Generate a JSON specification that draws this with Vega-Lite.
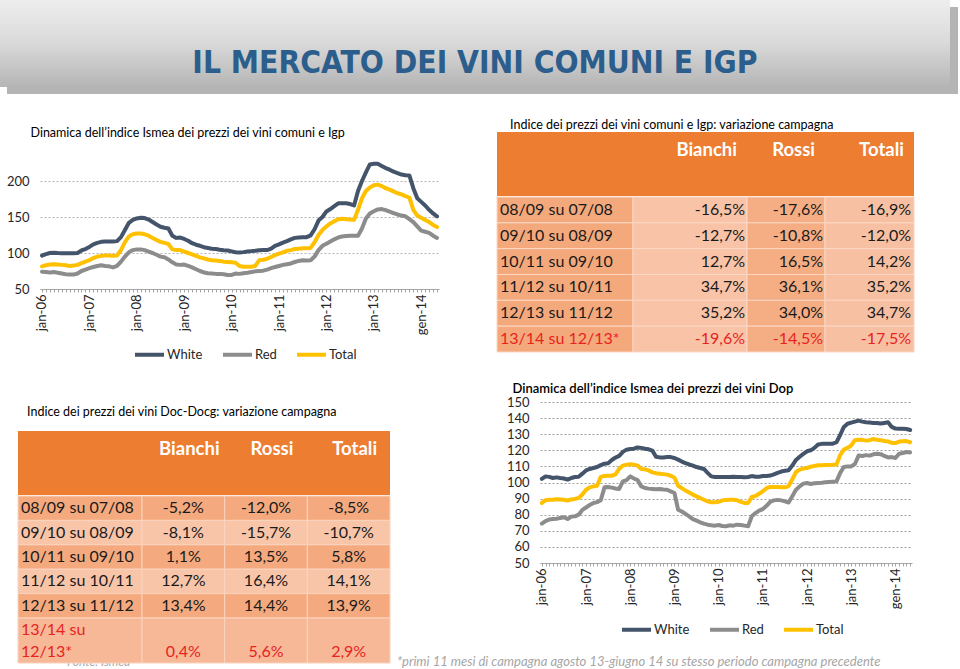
{
"$schema": "https://vega.github.io/schema/vega-lite/v6.json",
"width": 960, "height": 669, "padding": 0, "autosize": "none", "background": "white",
"config": {
  "view": {"stroke": null},
  "font": "Lato",
  "locale": {"number": {"decimal": ",", "thousands": ".", "grouping": [3], "currency": ["", " €"], "minus": "-"}},
  "scale": {"bandPaddingInner": 0, "bandPaddingOuter": 0, "rectBandPaddingInner": 0, "barBandPaddingInner": 0},
  "axis": {"labelFont": "Lato", "titleFont": "Lato"},
  "legend": {"labelFont": "Lato"}
},
"datasets": {
"igp_idx": [
{"m":0,"s":"White","v":96.4},{"m":1,"s":"White","v":98.5},{"m":2,"s":"White","v":100},{"m":3,"s":"White","v":100.5},{"m":4,"s":"White","v":100},{"m":5,"s":"White","v":99.7},{"m":6,"s":"White","v":99.5},{"m":7,"s":"White","v":99.7},{"m":8,"s":"White","v":99.5},{"m":9,"s":"White","v":100},
{"m":10,"s":"White","v":103.5},{"m":11,"s":"White","v":105.5},{"m":12,"s":"White","v":108.5},{"m":13,"s":"White","v":112},{"m":14,"s":"White","v":114},{"m":15,"s":"White","v":115.5},{"m":16,"s":"White","v":116},{"m":17,"s":"White","v":116},{"m":18,"s":"White","v":116},{"m":19,"s":"White","v":116.5},
{"m":20,"s":"White","v":122},{"m":21,"s":"White","v":132},{"m":22,"s":"White","v":142},{"m":23,"s":"White","v":146},{"m":24,"s":"White","v":148},{"m":25,"s":"White","v":149},{"m":26,"s":"White","v":148.5},{"m":27,"s":"White","v":146.5},{"m":28,"s":"White","v":143},{"m":29,"s":"White","v":139.5},
{"m":30,"s":"White","v":136.5},{"m":31,"s":"White","v":135},{"m":32,"s":"White","v":134},{"m":33,"s":"White","v":124},{"m":34,"s":"White","v":121},{"m":35,"s":"White","v":121.5},{"m":36,"s":"White","v":119.5},{"m":37,"s":"White","v":117},{"m":38,"s":"White","v":113.6},{"m":39,"s":"White","v":111.5},
{"m":40,"s":"White","v":110},{"m":41,"s":"White","v":108},{"m":42,"s":"White","v":107},{"m":43,"s":"White","v":106},{"m":44,"s":"White","v":105.5},{"m":45,"s":"White","v":104.5},{"m":46,"s":"White","v":103.8},{"m":47,"s":"White","v":103.4},{"m":48,"s":"White","v":102.2},{"m":49,"s":"White","v":101},
{"m":50,"s":"White","v":100.6},{"m":51,"s":"White","v":101.2},{"m":52,"s":"White","v":102},{"m":53,"s":"White","v":102.6},{"m":54,"s":"White","v":103},{"m":55,"s":"White","v":103.8},{"m":56,"s":"White","v":104},{"m":57,"s":"White","v":104},{"m":58,"s":"White","v":106},{"m":59,"s":"White","v":110},
{"m":60,"s":"White","v":112},{"m":61,"s":"White","v":114.5},{"m":62,"s":"White","v":116.5},{"m":63,"s":"White","v":119},{"m":64,"s":"White","v":121},{"m":65,"s":"White","v":121.5},{"m":66,"s":"White","v":122},{"m":67,"s":"White","v":122},{"m":68,"s":"White","v":124.5},{"m":69,"s":"White","v":133},
{"m":70,"s":"White","v":145},{"m":71,"s":"White","v":150},{"m":72,"s":"White","v":157.7},{"m":73,"s":"White","v":161},{"m":74,"s":"White","v":165},{"m":75,"s":"White","v":169},{"m":76,"s":"White","v":169},{"m":77,"s":"White","v":169},{"m":78,"s":"White","v":168},{"m":79,"s":"White","v":166},
{"m":80,"s":"White","v":186},{"m":81,"s":"White","v":200},{"m":82,"s":"White","v":212},{"m":83,"s":"White","v":223},{"m":84,"s":"White","v":224},{"m":85,"s":"White","v":224},{"m":86,"s":"White","v":221},{"m":87,"s":"White","v":218},{"m":88,"s":"White","v":215.7},{"m":89,"s":"White","v":213},
{"m":90,"s":"White","v":211},{"m":91,"s":"White","v":209},{"m":92,"s":"White","v":208},{"m":93,"s":"White","v":207.8},{"m":94,"s":"White","v":190},{"m":95,"s":"White","v":176},{"m":96,"s":"White","v":171},{"m":97,"s":"White","v":166},{"m":98,"s":"White","v":160},{"m":99,"s":"White","v":155},{"m":100,"s":"White","v":151},
{"m":0,"s":"Red","v":74},{"m":1,"s":"Red","v":73.5},{"m":2,"s":"Red","v":73},{"m":3,"s":"Red","v":73.5},{"m":4,"s":"Red","v":72.5},{"m":5,"s":"Red","v":71.5},{"m":6,"s":"Red","v":70.5},{"m":7,"s":"Red","v":70},{"m":8,"s":"Red","v":70},{"m":9,"s":"Red","v":71.5},
{"m":10,"s":"Red","v":75},{"m":11,"s":"Red","v":77},{"m":12,"s":"Red","v":79},{"m":13,"s":"Red","v":80.5},{"m":14,"s":"Red","v":82},{"m":15,"s":"Red","v":83},{"m":16,"s":"Red","v":82},{"m":17,"s":"Red","v":81.5},{"m":18,"s":"Red","v":80},{"m":19,"s":"Red","v":82},
{"m":20,"s":"Red","v":88},{"m":21,"s":"Red","v":95},{"m":22,"s":"Red","v":101},{"m":23,"s":"Red","v":104},{"m":24,"s":"Red","v":105},{"m":25,"s":"Red","v":105},{"m":26,"s":"Red","v":104},{"m":27,"s":"Red","v":102},{"m":28,"s":"Red","v":100},{"m":29,"s":"Red","v":97.5},
{"m":30,"s":"Red","v":95},{"m":31,"s":"Red","v":94},{"m":32,"s":"Red","v":91},{"m":33,"s":"Red","v":87},{"m":34,"s":"Red","v":84},{"m":35,"s":"Red","v":83.5},{"m":36,"s":"Red","v":84},{"m":37,"s":"Red","v":82},{"m":38,"s":"Red","v":80},{"m":39,"s":"Red","v":77.5},
{"m":40,"s":"Red","v":75},{"m":41,"s":"Red","v":73},{"m":42,"s":"Red","v":72},{"m":43,"s":"Red","v":71.5},{"m":44,"s":"Red","v":71},{"m":45,"s":"Red","v":71},{"m":46,"s":"Red","v":70.5},{"m":47,"s":"Red","v":69.5},{"m":48,"s":"Red","v":69.5},{"m":49,"s":"Red","v":71.5},
{"m":50,"s":"Red","v":71},{"m":51,"s":"Red","v":72},{"m":52,"s":"Red","v":72.5},{"m":53,"s":"Red","v":73.5},{"m":54,"s":"Red","v":74.5},{"m":55,"s":"Red","v":75},{"m":56,"s":"Red","v":75.5},{"m":57,"s":"Red","v":77},{"m":58,"s":"Red","v":79},{"m":59,"s":"Red","v":80.5},
{"m":60,"s":"Red","v":82},{"m":61,"s":"Red","v":83.5},{"m":62,"s":"Red","v":84.5},{"m":63,"s":"Red","v":85.5},{"m":64,"s":"Red","v":87.5},{"m":65,"s":"Red","v":89},{"m":66,"s":"Red","v":90},{"m":67,"s":"Red","v":89.5},{"m":68,"s":"Red","v":90},{"m":69,"s":"Red","v":95},
{"m":70,"s":"Red","v":104},{"m":71,"s":"Red","v":110},{"m":72,"s":"Red","v":113},{"m":73,"s":"Red","v":116},{"m":74,"s":"Red","v":119},{"m":75,"s":"Red","v":121.5},{"m":76,"s":"Red","v":123},{"m":77,"s":"Red","v":123.5},{"m":78,"s":"Red","v":124},{"m":79,"s":"Red","v":124},
{"m":80,"s":"Red","v":124},{"m":81,"s":"Red","v":134},{"m":82,"s":"Red","v":148},{"m":83,"s":"Red","v":155},{"m":84,"s":"Red","v":158},{"m":85,"s":"Red","v":160.5},{"m":86,"s":"Red","v":161},{"m":87,"s":"Red","v":159.5},{"m":88,"s":"Red","v":157.5},{"m":89,"s":"Red","v":155.5},
{"m":90,"s":"Red","v":153.5},{"m":91,"s":"Red","v":152},{"m":92,"s":"Red","v":151},{"m":93,"s":"Red","v":147},{"m":94,"s":"Red","v":143},{"m":95,"s":"Red","v":137},{"m":96,"s":"Red","v":131},{"m":97,"s":"Red","v":129.5},{"m":98,"s":"Red","v":128},{"m":99,"s":"Red","v":124},{"m":100,"s":"Red","v":121},
{"m":0,"s":"Total","v":81.5},{"m":1,"s":"Total","v":83},{"m":2,"s":"Total","v":84},{"m":3,"s":"Total","v":84.5},{"m":4,"s":"Total","v":84},{"m":5,"s":"Total","v":83.5},{"m":6,"s":"Total","v":83},{"m":7,"s":"Total","v":82},{"m":8,"s":"Total","v":82.5},{"m":9,"s":"Total","v":83.5},
{"m":10,"s":"Total","v":86},{"m":11,"s":"Total","v":88},{"m":12,"s":"Total","v":90},{"m":13,"s":"Total","v":93},{"m":14,"s":"Total","v":95},{"m":15,"s":"Total","v":96},{"m":16,"s":"Total","v":96.5},{"m":17,"s":"Total","v":96.5},{"m":18,"s":"Total","v":96},{"m":19,"s":"Total","v":96.5},
{"m":20,"s":"Total","v":104},{"m":21,"s":"Total","v":115},{"m":22,"s":"Total","v":123},{"m":23,"s":"Total","v":126},{"m":24,"s":"Total","v":127},{"m":25,"s":"Total","v":127},{"m":26,"s":"Total","v":126},{"m":27,"s":"Total","v":124},{"m":28,"s":"Total","v":121},{"m":29,"s":"Total","v":118},
{"m":30,"s":"Total","v":115.5},{"m":31,"s":"Total","v":114},{"m":32,"s":"Total","v":112.5},{"m":33,"s":"Total","v":105},{"m":34,"s":"Total","v":104},{"m":35,"s":"Total","v":104},{"m":36,"s":"Total","v":102},{"m":37,"s":"Total","v":100},{"m":38,"s":"Total","v":98},{"m":39,"s":"Total","v":96},
{"m":40,"s":"Total","v":94},{"m":41,"s":"Total","v":92.5},{"m":42,"s":"Total","v":91},{"m":43,"s":"Total","v":90},{"m":44,"s":"Total","v":89.5},{"m":45,"s":"Total","v":89},{"m":46,"s":"Total","v":88},{"m":47,"s":"Total","v":87.5},{"m":48,"s":"Total","v":87},{"m":49,"s":"Total","v":86.5},
{"m":50,"s":"Total","v":82},{"m":51,"s":"Total","v":81},{"m":52,"s":"Total","v":81},{"m":53,"s":"Total","v":81},{"m":54,"s":"Total","v":82},{"m":55,"s":"Total","v":90},{"m":56,"s":"Total","v":90.5},{"m":57,"s":"Total","v":92},{"m":58,"s":"Total","v":94.5},{"m":59,"s":"Total","v":97},
{"m":60,"s":"Total","v":99},{"m":61,"s":"Total","v":101},{"m":62,"s":"Total","v":103},{"m":63,"s":"Total","v":104},{"m":64,"s":"Total","v":105.5},{"m":65,"s":"Total","v":106},{"m":66,"s":"Total","v":106.5},{"m":67,"s":"Total","v":106.5},{"m":68,"s":"Total","v":107},{"m":69,"s":"Total","v":115},
{"m":70,"s":"Total","v":125},{"m":71,"s":"Total","v":132},{"m":72,"s":"Total","v":137},{"m":73,"s":"Total","v":141},{"m":74,"s":"Total","v":144},{"m":75,"s":"Total","v":147},{"m":76,"s":"Total","v":147.5},{"m":77,"s":"Total","v":147},{"m":78,"s":"Total","v":146.5},{"m":79,"s":"Total","v":146},
{"m":80,"s":"Total","v":160},{"m":81,"s":"Total","v":176},{"m":82,"s":"Total","v":186},{"m":83,"s":"Total","v":191},{"m":84,"s":"Total","v":194},{"m":85,"s":"Total","v":195},{"m":86,"s":"Total","v":193},{"m":87,"s":"Total","v":190},{"m":88,"s":"Total","v":188},{"m":89,"s":"Total","v":185.5},
{"m":90,"s":"Total","v":183},{"m":91,"s":"Total","v":181.5},{"m":92,"s":"Total","v":179},{"m":93,"s":"Total","v":177},{"m":94,"s":"Total","v":160},{"m":95,"s":"Total","v":152},{"m":96,"s":"Total","v":149},{"m":97,"s":"Total","v":146},{"m":98,"s":"Total","v":143},{"m":99,"s":"Total","v":139},{"m":100,"s":"Total","v":136}
],
"dop_idx": [
{"m":0,"s":"White","v":102.2},{"m":1,"s":"White","v":103.8},{"m":2,"s":"White","v":103.5},{"m":3,"s":"White","v":102.8},{"m":4,"s":"White","v":103.2},{"m":5,"s":"White","v":102.8},{"m":6,"s":"White","v":102.5},{"m":7,"s":"White","v":101.8},{"m":8,"s":"White","v":102.8},{"m":9,"s":"White","v":103.4},
{"m":10,"s":"White","v":103.6},{"m":11,"s":"White","v":105.5},{"m":12,"s":"White","v":107.5},{"m":13,"s":"White","v":108.4},{"m":14,"s":"White","v":109},{"m":15,"s":"White","v":109.6},{"m":16,"s":"White","v":110.8},{"m":17,"s":"White","v":111.7},{"m":18,"s":"White","v":112},{"m":19,"s":"White","v":114},
{"m":20,"s":"White","v":115.5},{"m":21,"s":"White","v":116.5},{"m":22,"s":"White","v":119},{"m":23,"s":"White","v":120.4},{"m":24,"s":"White","v":120.8},{"m":25,"s":"White","v":121},{"m":26,"s":"White","v":121.8},{"m":27,"s":"White","v":121.5},{"m":28,"s":"White","v":121},{"m":29,"s":"White","v":120.6},
{"m":30,"s":"White","v":119.8},{"m":31,"s":"White","v":116},{"m":32,"s":"White","v":115.6},{"m":33,"s":"White","v":115.6},{"m":34,"s":"White","v":115.8},{"m":35,"s":"White","v":115.8},{"m":36,"s":"White","v":115.2},{"m":37,"s":"White","v":114.2},{"m":38,"s":"White","v":113},{"m":39,"s":"White","v":112},
{"m":40,"s":"White","v":111.2},{"m":41,"s":"White","v":110.5},{"m":42,"s":"White","v":109.6},{"m":43,"s":"White","v":109},{"m":44,"s":"White","v":108.4},{"m":45,"s":"White","v":106},{"m":46,"s":"White","v":103.8},{"m":47,"s":"White","v":103.4},{"m":48,"s":"White","v":103.4},{"m":49,"s":"White","v":103.4},
{"m":50,"s":"White","v":103.4},{"m":51,"s":"White","v":103.4},{"m":52,"s":"White","v":103.6},{"m":53,"s":"White","v":103.4},{"m":54,"s":"White","v":103.4},{"m":55,"s":"White","v":103.3},{"m":56,"s":"White","v":103.4},{"m":57,"s":"White","v":104},{"m":58,"s":"White","v":103.6},{"m":59,"s":"White","v":103.6},
{"m":60,"s":"White","v":104},{"m":61,"s":"White","v":104},{"m":62,"s":"White","v":104.3},{"m":63,"s":"White","v":105},{"m":64,"s":"White","v":106},{"m":65,"s":"White","v":106.8},{"m":66,"s":"White","v":107.3},{"m":67,"s":"White","v":107.6},{"m":68,"s":"White","v":110.5},{"m":69,"s":"White","v":114},
{"m":70,"s":"White","v":116},{"m":71,"s":"White","v":117.8},{"m":72,"s":"White","v":119.4},{"m":73,"s":"White","v":120},{"m":74,"s":"White","v":121.5},{"m":75,"s":"White","v":123.6},{"m":76,"s":"White","v":124},{"m":77,"s":"White","v":124.1},{"m":78,"s":"White","v":124.1},{"m":79,"s":"White","v":124.1},
{"m":80,"s":"White","v":125},{"m":81,"s":"White","v":129.5},{"m":82,"s":"White","v":134.5},{"m":83,"s":"White","v":136.5},{"m":84,"s":"White","v":137.2},{"m":85,"s":"White","v":137.8},{"m":86,"s":"White","v":138.4},{"m":87,"s":"White","v":137.8},{"m":88,"s":"White","v":137.4},{"m":89,"s":"White","v":137.2},
{"m":90,"s":"White","v":137},{"m":91,"s":"White","v":137},{"m":92,"s":"White","v":136.6},{"m":93,"s":"White","v":137},{"m":94,"s":"White","v":137.4},{"m":95,"s":"White","v":134.5},{"m":96,"s":"White","v":133.5},{"m":97,"s":"White","v":133.4},{"m":98,"s":"White","v":133.4},{"m":99,"s":"White","v":133.2},{"m":100,"s":"White","v":132.6},
{"m":0,"s":"Red","v":74.4},{"m":1,"s":"Red","v":76},{"m":2,"s":"Red","v":77},{"m":3,"s":"Red","v":77.3},{"m":4,"s":"Red","v":77.5},{"m":5,"s":"Red","v":78},{"m":6,"s":"Red","v":78.4},{"m":7,"s":"Red","v":77.3},{"m":8,"s":"Red","v":78.8},{"m":9,"s":"Red","v":79},
{"m":10,"s":"Red","v":80},{"m":11,"s":"Red","v":83},{"m":12,"s":"Red","v":84.5},{"m":13,"s":"Red","v":86},{"m":14,"s":"Red","v":87.3},{"m":15,"s":"Red","v":87.8},{"m":16,"s":"Red","v":89},{"m":17,"s":"Red","v":97},{"m":18,"s":"Red","v":97.2},{"m":19,"s":"Red","v":96.8},
{"m":20,"s":"Red","v":96.3},{"m":21,"s":"Red","v":96},{"m":22,"s":"Red","v":100.7},{"m":23,"s":"Red","v":101.5},{"m":24,"s":"Red","v":103.8},{"m":25,"s":"Red","v":102.5},{"m":26,"s":"Red","v":101.5},{"m":27,"s":"Red","v":97.6},{"m":28,"s":"Red","v":96.6},{"m":29,"s":"Red","v":96.2},
{"m":30,"s":"Red","v":96},{"m":31,"s":"Red","v":95.8},{"m":32,"s":"Red","v":96},{"m":33,"s":"Red","v":95.6},{"m":34,"s":"Red","v":95.5},{"m":35,"s":"Red","v":94.5},{"m":36,"s":"Red","v":93.5},{"m":37,"s":"Red","v":83.1},{"m":38,"s":"Red","v":82},{"m":39,"s":"Red","v":80.5},
{"m":40,"s":"Red","v":79},{"m":41,"s":"Red","v":77.3},{"m":42,"s":"Red","v":76.3},{"m":43,"s":"Red","v":75.3},{"m":44,"s":"Red","v":74.5},{"m":45,"s":"Red","v":73.8},{"m":46,"s":"Red","v":73.4},{"m":47,"s":"Red","v":73.2},{"m":48,"s":"Red","v":73.6},{"m":49,"s":"Red","v":73},
{"m":50,"s":"Red","v":72.8},{"m":51,"s":"Red","v":73.4},{"m":52,"s":"Red","v":73.2},{"m":53,"s":"Red","v":73.8},{"m":54,"s":"Red","v":73.6},{"m":55,"s":"Red","v":73.2},{"m":56,"s":"Red","v":72.8},{"m":57,"s":"Red","v":79},{"m":58,"s":"Red","v":81},{"m":59,"s":"Red","v":82.5},
{"m":60,"s":"Red","v":83.5},{"m":61,"s":"Red","v":85.5},{"m":62,"s":"Red","v":88},{"m":63,"s":"Red","v":88.9},{"m":64,"s":"Red","v":89.2},{"m":65,"s":"Red","v":88.9},{"m":66,"s":"Red","v":88.3},{"m":67,"s":"Red","v":87.6},{"m":68,"s":"Red","v":91.5},{"m":69,"s":"Red","v":95.5},
{"m":70,"s":"Red","v":97.6},{"m":71,"s":"Red","v":99.3},{"m":72,"s":"Red","v":99.7},{"m":73,"s":"Red","v":99.1},{"m":74,"s":"Red","v":99.5},{"m":75,"s":"Red","v":99.7},{"m":76,"s":"Red","v":99.8},{"m":77,"s":"Red","v":100.1},{"m":78,"s":"Red","v":100.3},{"m":79,"s":"Red","v":100.5},
{"m":80,"s":"Red","v":100.7},{"m":81,"s":"Red","v":106},{"m":82,"s":"Red","v":109.6},{"m":83,"s":"Red","v":110},{"m":84,"s":"Red","v":110},{"m":85,"s":"Red","v":111.5},{"m":86,"s":"Red","v":116.7},{"m":87,"s":"Red","v":116.5},{"m":88,"s":"Red","v":117},{"m":89,"s":"Red","v":116.7},
{"m":90,"s":"Red","v":117.5},{"m":91,"s":"Red","v":117.9},{"m":92,"s":"Red","v":117.6},{"m":93,"s":"Red","v":116.5},{"m":94,"s":"Red","v":115.6},{"m":95,"s":"Red","v":115.8},{"m":96,"s":"Red","v":115.2},{"m":97,"s":"Red","v":117.9},{"m":98,"s":"Red","v":118.3},{"m":99,"s":"Red","v":118.9},{"m":100,"s":"Red","v":118.7},
{"m":0,"s":"Total","v":87.3},{"m":1,"s":"Total","v":89},{"m":2,"s":"Total","v":89.3},{"m":3,"s":"Total","v":89.3},{"m":4,"s":"Total","v":89.6},{"m":5,"s":"Total","v":89.5},{"m":6,"s":"Total","v":89.3},{"m":7,"s":"Total","v":88.8},{"m":8,"s":"Total","v":89.5},{"m":9,"s":"Total","v":89.8},
{"m":10,"s":"Total","v":90.4},{"m":11,"s":"Total","v":92.5},{"m":12,"s":"Total","v":95.5},{"m":13,"s":"Total","v":97},{"m":14,"s":"Total","v":97.6},{"m":15,"s":"Total","v":98},{"m":16,"s":"Total","v":103.5},{"m":17,"s":"Total","v":104},{"m":18,"s":"Total","v":104.2},{"m":19,"s":"Total","v":104.2},
{"m":20,"s":"Total","v":105},{"m":21,"s":"Total","v":108.5},{"m":22,"s":"Total","v":110.5},{"m":23,"s":"Total","v":111.1},{"m":24,"s":"Total","v":111.3},{"m":25,"s":"Total","v":111.1},{"m":26,"s":"Total","v":110.5},{"m":27,"s":"Total","v":108.4},{"m":28,"s":"Total","v":108.2},{"m":29,"s":"Total","v":107.5},
{"m":30,"s":"Total","v":106.3},{"m":31,"s":"Total","v":105.8},{"m":32,"s":"Total","v":105.5},{"m":33,"s":"Total","v":105.2},{"m":34,"s":"Total","v":104.9},{"m":35,"s":"Total","v":104.2},{"m":36,"s":"Total","v":103},{"m":37,"s":"Total","v":98},{"m":38,"s":"Total","v":96.5},{"m":39,"s":"Total","v":95},
{"m":40,"s":"Total","v":93.8},{"m":41,"s":"Total","v":92.5},{"m":42,"s":"Total","v":91.4},{"m":43,"s":"Total","v":90.3},{"m":44,"s":"Total","v":89.3},{"m":45,"s":"Total","v":88.3},{"m":46,"s":"Total","v":87.7},{"m":47,"s":"Total","v":87.7},{"m":48,"s":"Total","v":88},{"m":49,"s":"Total","v":88.9},
{"m":50,"s":"Total","v":89.2},{"m":51,"s":"Total","v":89.3},{"m":52,"s":"Total","v":89.3},{"m":53,"s":"Total","v":89},{"m":54,"s":"Total","v":88},{"m":55,"s":"Total","v":87.3},{"m":56,"s":"Total","v":87.3},{"m":57,"s":"Total","v":91},{"m":58,"s":"Total","v":91.6},{"m":59,"s":"Total","v":93},
{"m":60,"s":"Total","v":94.5},{"m":61,"s":"Total","v":96.5},{"m":62,"s":"Total","v":97.2},{"m":63,"s":"Total","v":97.2},{"m":64,"s":"Total","v":97.2},{"m":65,"s":"Total","v":97},{"m":66,"s":"Total","v":97},{"m":67,"s":"Total","v":97.8},{"m":68,"s":"Total","v":102},{"m":69,"s":"Total","v":106.5},
{"m":70,"s":"Total","v":108},{"m":71,"s":"Total","v":108.6},{"m":72,"s":"Total","v":109},{"m":73,"s":"Total","v":109.8},{"m":74,"s":"Total","v":110.3},{"m":75,"s":"Total","v":110.7},{"m":76,"s":"Total","v":110.7},{"m":77,"s":"Total","v":110.8},{"m":78,"s":"Total","v":110.9},{"m":79,"s":"Total","v":111},
{"m":80,"s":"Total","v":111.2},{"m":81,"s":"Total","v":117},{"m":82,"s":"Total","v":120.4},{"m":83,"s":"Total","v":121.5},{"m":84,"s":"Total","v":123},{"m":85,"s":"Total","v":126.3},{"m":86,"s":"Total","v":126.6},{"m":87,"s":"Total","v":126.5},{"m":88,"s":"Total","v":126},{"m":89,"s":"Total","v":126.3},
{"m":90,"s":"Total","v":127},{"m":91,"s":"Total","v":126.6},{"m":92,"s":"Total","v":126.2},{"m":93,"s":"Total","v":125.8},{"m":94,"s":"Total","v":125.5},{"m":95,"s":"Total","v":124.6},{"m":96,"s":"Total","v":124.5},{"m":97,"s":"Total","v":125.4},{"m":98,"s":"Total","v":125.6},{"m":99,"s":"Total","v":125.7},{"m":100,"s":"Total","v":125}
],
"igp_tab": [
{"k":1,"periodo":"08/09 su 07/08","col":"Bianchi","v":-0.165},{"k":1,"periodo":"08/09 su 07/08","col":"Rossi","v":-0.176},{"k":1,"periodo":"08/09 su 07/08","col":"Totali","v":-0.169},
{"k":2,"periodo":"09/10 su 08/09","col":"Bianchi","v":-0.127},{"k":2,"periodo":"09/10 su 08/09","col":"Rossi","v":-0.108},{"k":2,"periodo":"09/10 su 08/09","col":"Totali","v":-0.12},
{"k":3,"periodo":"10/11 su 09/10","col":"Bianchi","v":0.127},{"k":3,"periodo":"10/11 su 09/10","col":"Rossi","v":0.165},{"k":3,"periodo":"10/11 su 09/10","col":"Totali","v":0.142},
{"k":4,"periodo":"11/12 su 10/11","col":"Bianchi","v":0.347},{"k":4,"periodo":"11/12 su 10/11","col":"Rossi","v":0.361},{"k":4,"periodo":"11/12 su 10/11","col":"Totali","v":0.352},
{"k":5,"periodo":"12/13 su 11/12","col":"Bianchi","v":0.352},{"k":5,"periodo":"12/13 su 11/12","col":"Rossi","v":0.34},{"k":5,"periodo":"12/13 su 11/12","col":"Totali","v":0.347},
{"k":6,"periodo":"13/14 su 12/13*","col":"Bianchi","v":-0.196},{"k":6,"periodo":"13/14 su 12/13*","col":"Rossi","v":-0.145},{"k":6,"periodo":"13/14 su 12/13*","col":"Totali","v":-0.175}
],
"doc_tab": [
{"k":1,"periodo":"08/09 su 07/08","col":"Bianchi","v":-0.052},{"k":1,"periodo":"08/09 su 07/08","col":"Rossi","v":-0.12},{"k":1,"periodo":"08/09 su 07/08","col":"Totali","v":-0.085},
{"k":2,"periodo":"09/10 su 08/09","col":"Bianchi","v":-0.081},{"k":2,"periodo":"09/10 su 08/09","col":"Rossi","v":-0.157},{"k":2,"periodo":"09/10 su 08/09","col":"Totali","v":-0.107},
{"k":3,"periodo":"10/11 su 09/10","col":"Bianchi","v":0.011},{"k":3,"periodo":"10/11 su 09/10","col":"Rossi","v":0.135},{"k":3,"periodo":"10/11 su 09/10","col":"Totali","v":0.058},
{"k":4,"periodo":"11/12 su 10/11","col":"Bianchi","v":0.127},{"k":4,"periodo":"11/12 su 10/11","col":"Rossi","v":0.164},{"k":4,"periodo":"11/12 su 10/11","col":"Totali","v":0.141},
{"k":5,"periodo":"12/13 su 11/12","col":"Bianchi","v":0.134},{"k":5,"periodo":"12/13 su 11/12","col":"Rossi","v":0.144},{"k":5,"periodo":"12/13 su 11/12","col":"Totali","v":0.139},
{"k":6,"periodo":"13/14 su\n12/13*","col":"Bianchi","v":0.004},{"k":6,"periodo":"13/14 su\n12/13*","col":"Rossi","v":0.056},{"k":6,"periodo":"13/14 su\n12/13*","col":"Totali","v":0.029}
]
},
"layer": [
{"data": {"values": [{"b": "banner"}]}, "mark": {"type": "rect", "fill": "#B4B4B4"},
 "encoding": {"x": {"datum": "b", "type": "nominal", "scale": {"range": [7, 958]}, "axis": null},
              "y": {"datum": "b", "type": "nominal", "scale": {"range": [7, 94]}, "axis": null}}},
{"data": {"values": [{"b": "banner"}]},
 "mark": {"type": "rect", "fill": {"gradient": "linear", "x1": 0, "y1": 0, "x2": 0, "y2": 1, "stops": [{"offset": 0, "color": "#EEEEEE"}, {"offset": 0.5, "color": "#D9D9D9"}, {"offset": 1, "color": "#B5B5B5"}]}},
 "encoding": {"x": {"datum": "b", "type": "nominal", "scale": {"range": [0, 950]}, "axis": null},
              "y": {"datum": "b", "type": "nominal", "scale": {"range": [0, 87]}, "axis": null}}},
{"data": {"values": [{"t": "IL MERCATO DEI VINI COMUNI E IGP"}]},
 "mark": {"type": "text", "font": "Liberation Sans Narrow, DejaVu Sans Condensed, Lato", "fontWeight": "bold", "fontSize": 31.5, "color": "#2B5E8C", "baseline": "middle", "align": "center"},
 "encoding": {"x": {"datum": "b", "type": "nominal", "scale": {"type": "band", "range": [0, 950]}, "axis": null},
              "y": {"datum": "b", "type": "nominal", "scale": {"type": "band", "range": [42, 86]}, "axis": null},
              "text": {"field": "t"}}},
{"data": {"name": "igp_idx"},
 "mark": {"type": "line", "strokeWidth": 4, "strokeJoin": "round", "strokeCap": "round"},
 "encoding": {
  "x": {"field": "m", "type": "ordinal", "scale": {"range": [40, 439]},
        "axis": {"orient": "bottom", "offset": -380, "title": null, "labelExpr": "datum.value % 12 == 0 ? (datum.value == 96 ? 'gen-14' : 'jan-' + (datum.value < 48 ? '0' : '') + (6 + datum.value / 12)) : ''", "labelAngle": -90, "labelOverlap": false, "labelPadding": 2, "labelFontSize": 13, "labelColor": "#262626", "tickSize": 3, "tickColor": "#A6A6A6", "domainColor": "#A6A6A6", "grid": false}},
  "y": {"field": "v", "type": "quantitative", "scale": {"domain": [50, 225], "range": [289, 163], "nice": false, "zero": false},
        "axis": {"orient": "left", "offset": -40, "values": [50, 100, 150, 200], "grid": true, "gridColor": "#B5B5B5", "gridDash": [2, 2], "domain": false, "ticks": false, "labelPadding": 11, "labelFontSize": 13, "labelColor": "#262626",
                 "title": "Dinamica dell’indice Ismea dei prezzi dei vini comuni e Igp", "titleAngle": 0, "titleX": -10, "titleY": 132, "titleAlign": "left", "titleBaseline": "middle", "titleFontSize": 12.5, "titleFontWeight": "normal", "titleColor": "#000000"}},
  "color": {"field": "s", "type": "nominal", "scale": {"domain": ["White", "Red", "Total"], "range": ["#44546A", "#8C8C8C", "#FFC000"]},
            "legend": {"orient": "none", "legendX": 133, "legendY": 338, "direction": "horizontal", "title": null, "symbolType": "stroke", "symbolSize": 841, "symbolStrokeWidth": 4, "labelFontSize": 13, "labelColor": "#262626", "labelOffset": 1, "columnPadding": 12, "padding": 0}}
 }},
{"data": {"values": [{"t": "Indice dei prezzi dei vini comuni e Igp:  variazione campagna"}]},
 "mark": {"type": "text", "align": "left", "baseline": "middle", "fontSize": 12.5, "color": "#000000"},
 "encoding": {"x": {"datum": "a", "type": "nominal", "bandPosition": 0, "scale": {"type": "band", "range": [510, 880]}, "axis": null},
              "y": {"datum": "a", "type": "nominal", "scale": {"type": "band", "range": [118, 132]}, "axis": null},
              "text": {"field": "t"}}},
{"data": {"values": [{"h": "intestazione"}]}, "mark": {"type": "rect", "fill": "#ED7D31"},
 "encoding": {"x": {"datum": "a", "type": "nominal", "scale": {"range": [497, 914]}, "axis": null},
              "y": {"datum": "a", "type": "nominal", "scale": {"range": [132, 196]}, "axis": null}}},
{"data": {"name": "igp_tab"}, "transform": [{"filter": "datum.col == 'Bianchi'"}],
 "mark": {"type": "rect", "fill": "#F4A97C", "stroke": "#FBD7C4", "strokeWidth": 1},
 "encoding": {"x": {"datum": "Periodo", "type": "nominal", "scale": {"range": [497, 633]}, "axis": null},
              "y": {"field": "periodo", "type": "nominal", "scale": {"range": [197, 352]}, "axis": null}}},
{"data": {"name": "igp_tab"}, "transform": [{"filter": "datum.col == 'Bianchi'"}],
 "mark": {"type": "text", "align": "left", "baseline": "middle", "fontSize": 16, "dx": 3},
 "encoding": {"x": {"datum": "Periodo", "type": "nominal", "bandPosition": 0, "scale": {"type": "band", "range": [497, 633]}, "axis": null},
              "y": {"field": "periodo", "type": "nominal", "scale": {"type": "band", "range": [197, 352]}, "axis": null},
              "text": {"field": "periodo"},
              "color": {"condition": {"test": "datum.k == 6", "value": "#E8231E"}, "value": "#1A1A1A"}}},
{"data": {"name": "igp_tab"}, "transform": [{"filter": "datum.col == 'Bianchi'"}],
 "mark": {"type": "rect", "fill": "#F8C3A6", "stroke": "#FBD7C4", "strokeWidth": 1},
 "encoding": {"x": {"field": "col", "type": "nominal", "scale": {"range": [633, 747]}, "axis": null},
              "y": {"field": "periodo", "type": "nominal", "scale": {"range": [197, 352]}, "axis": null}}},
{"data": {"name": "igp_tab"}, "transform": [{"filter": "datum.col == 'Bianchi'"}],
 "mark": {"type": "text", "align": "right", "baseline": "middle", "fontSize": 16, "dx": -2},
 "encoding": {"x": {"field": "col", "type": "nominal", "bandPosition": 1, "scale": {"type": "band", "range": [633, 747]}, "axis": null},
              "y": {"field": "periodo", "type": "nominal", "scale": {"type": "band", "range": [197, 352]}, "axis": null},
              "text": {"field": "v", "format": ".1%"},
              "color": {"condition": {"test": "datum.k == 6", "value": "#E8231E"}, "value": "#1A1A1A"}}},
{"data": {"values": [{"col": "Bianchi"}]},
 "mark": {"type": "text", "align": "right", "baseline": "middle", "fontSize": 18.5, "fontWeight": "bold", "color": "#FFFFFF", "dx": -10},
 "encoding": {"x": {"field": "col", "type": "nominal", "bandPosition": 1, "scale": {"type": "band", "range": [633, 747]}, "axis": null},
              "y": {"datum": "h", "type": "nominal", "scale": {"type": "band", "range": [132, 168]}, "axis": null},
              "text": {"field": "col"}}},
{"data": {"name": "igp_tab"}, "transform": [{"filter": "datum.col == 'Rossi'"}],
 "mark": {"type": "rect", "fill": "#F5AD84", "stroke": "#FBD7C4", "strokeWidth": 1},
 "encoding": {"x": {"field": "col", "type": "nominal", "scale": {"range": [747, 825]}, "axis": null},
              "y": {"field": "periodo", "type": "nominal", "scale": {"range": [197, 352]}, "axis": null}}},
{"data": {"name": "igp_tab"}, "transform": [{"filter": "datum.col == 'Rossi'"}],
 "mark": {"type": "text", "align": "right", "baseline": "middle", "fontSize": 16, "dx": -2},
 "encoding": {"x": {"field": "col", "type": "nominal", "bandPosition": 1, "scale": {"type": "band", "range": [747, 825]}, "axis": null},
              "y": {"field": "periodo", "type": "nominal", "scale": {"type": "band", "range": [197, 352]}, "axis": null},
              "text": {"field": "v", "format": ".1%"},
              "color": {"condition": {"test": "datum.k == 6", "value": "#E8231E"}, "value": "#1A1A1A"}}},
{"data": {"values": [{"col": "Rossi"}]},
 "mark": {"type": "text", "align": "right", "baseline": "middle", "fontSize": 18.5, "fontWeight": "bold", "color": "#FFFFFF", "dx": -10},
 "encoding": {"x": {"field": "col", "type": "nominal", "bandPosition": 1, "scale": {"type": "band", "range": [747, 825]}, "axis": null},
              "y": {"datum": "h", "type": "nominal", "scale": {"type": "band", "range": [132, 168]}, "axis": null},
              "text": {"field": "col"}}},
{"data": {"name": "igp_tab"}, "transform": [{"filter": "datum.col == 'Totali'"}],
 "mark": {"type": "rect", "fill": "#F8C0A2", "stroke": "#FBD7C4", "strokeWidth": 1},
 "encoding": {"x": {"field": "col", "type": "nominal", "scale": {"range": [825, 914]}, "axis": null},
              "y": {"field": "periodo", "type": "nominal", "scale": {"range": [197, 352]}, "axis": null}}},
{"data": {"name": "igp_tab"}, "transform": [{"filter": "datum.col == 'Totali'"}],
 "mark": {"type": "text", "align": "right", "baseline": "middle", "fontSize": 16, "dx": -3},
 "encoding": {"x": {"field": "col", "type": "nominal", "bandPosition": 1, "scale": {"type": "band", "range": [825, 914]}, "axis": null},
              "y": {"field": "periodo", "type": "nominal", "scale": {"type": "band", "range": [197, 352]}, "axis": null},
              "text": {"field": "v", "format": ".1%"},
              "color": {"condition": {"test": "datum.k == 6", "value": "#E8231E"}, "value": "#1A1A1A"}}},
{"data": {"values": [{"col": "Totali"}]},
 "mark": {"type": "text", "align": "right", "baseline": "middle", "fontSize": 18.5, "fontWeight": "bold", "color": "#FFFFFF", "dx": -10},
 "encoding": {"x": {"field": "col", "type": "nominal", "bandPosition": 1, "scale": {"type": "band", "range": [825, 914]}, "axis": null},
              "y": {"datum": "h", "type": "nominal", "scale": {"type": "band", "range": [132, 168]}, "axis": null},
              "text": {"field": "col"}}},
{"data": {"values": [{"t": "Indice dei prezzi dei vini Doc-Docg:  variazione campagna"}]},
 "mark": {"type": "text", "align": "left", "baseline": "middle", "fontSize": 12.5, "color": "#000000"},
 "encoding": {"x": {"datum": "a", "type": "nominal", "bandPosition": 0, "scale": {"type": "band", "range": [27, 380]}, "axis": null},
              "y": {"datum": "a", "type": "nominal", "scale": {"type": "band", "range": [405, 419]}, "axis": null},
              "text": {"field": "t"}}},
{"data": {"values": [{"t": "Fonte: Ismea"}]},
 "mark": {"type": "text", "align": "left", "baseline": "middle", "fontSize": 12, "fontStyle": "italic", "color": "#A6A6A6"},
 "encoding": {"x": {"datum": "a", "type": "nominal", "bandPosition": 0, "scale": {"type": "band", "range": [67, 140]}, "axis": null},
              "y": {"datum": "a", "type": "nominal", "scale": {"type": "band", "range": [655, 668]}, "axis": null},
              "text": {"field": "t"}}},
{"data": {"values": [{"h": "intestazione"}]}, "mark": {"type": "rect", "fill": "#ED7D31"},
 "encoding": {"x": {"datum": "a", "type": "nominal", "scale": {"range": [18, 390]}, "axis": null},
              "y": {"datum": "a", "type": "nominal", "scale": {"range": [431, 495]}, "axis": null}}},
{"data": {"values": [{"col": "Bianchi"}, {"col": "Rossi"}, {"col": "Totali"}]},
 "mark": {"type": "text", "align": "center", "baseline": "middle", "fontSize": 18.5, "fontWeight": "bold", "color": "#FFFFFF", "dx": 6},
 "encoding": {"x": {"field": "col", "type": "nominal", "scale": {"type": "band", "range": [142, 390]}, "axis": null},
              "y": {"datum": "h", "type": "nominal", "scale": {"type": "band", "range": [431, 467]}, "axis": null},
              "text": {"field": "col"}}},
{"data": {"name": "doc_tab"}, "transform": [{"filter": "datum.col == 'Bianchi' && datum.k < 6"}],
 "mark": {"type": "rect", "stroke": "#FAD3BE", "strokeWidth": 1},
 "encoding": {"x": {"datum": "Periodo", "type": "nominal", "scale": {"range": [18, 142]}, "axis": null},
              "y": {"field": "periodo", "type": "nominal", "scale": {"range": [496, 618]}, "axis": null},
              "fill": {"condition": {"test": "datum.k % 2 == 1", "value": "#F4AA7E"}, "value": "#F8C5A9"}}},
{"data": {"name": "doc_tab"}, "transform": [{"filter": "datum.k < 6"}],
 "mark": {"type": "rect", "stroke": "#FAD3BE", "strokeWidth": 1},
 "encoding": {"x": {"field": "col", "type": "nominal", "scale": {"range": [142, 390]}, "axis": null},
              "y": {"field": "periodo", "type": "nominal", "scale": {"range": [496, 618]}, "axis": null},
              "fill": {"condition": {"test": "datum.k % 2 == 1", "value": "#F4AA7E"}, "value": "#F8C5A9"}}},
{"data": {"name": "doc_tab"}, "transform": [{"filter": "datum.col == 'Bianchi' && datum.k == 6"}],
 "mark": {"type": "rect", "fill": "#F6B896", "stroke": "#FAD3BE", "strokeWidth": 1},
 "encoding": {"x": {"datum": "Periodo", "type": "nominal", "scale": {"range": [18, 142]}, "axis": null},
              "y": {"field": "periodo", "type": "nominal", "scale": {"range": [618, 663]}, "axis": null}}},
{"data": {"name": "doc_tab"}, "transform": [{"filter": "datum.k == 6"}],
 "mark": {"type": "rect", "fill": "#F6B896", "stroke": "#FAD3BE", "strokeWidth": 1},
 "encoding": {"x": {"field": "col", "type": "nominal", "scale": {"range": [142, 390]}, "axis": null},
              "y": {"field": "periodo", "type": "nominal", "scale": {"range": [618, 663]}, "axis": null}}},
{"data": {"name": "doc_tab"}, "transform": [{"filter": "datum.col == 'Bianchi' && datum.k < 6"}],
 "mark": {"type": "text", "align": "left", "baseline": "middle", "fontSize": 16, "dx": 3, "color": "#1A1A1A"},
 "encoding": {"x": {"datum": "Periodo", "type": "nominal", "bandPosition": 0, "scale": {"type": "band", "range": [18, 142]}, "axis": null},
              "y": {"field": "periodo", "type": "nominal", "scale": {"type": "band", "range": [496, 618]}, "axis": null},
              "text": {"field": "periodo"}}},
{"data": {"name": "doc_tab"}, "transform": [{"filter": "datum.col == 'Bianchi' && datum.k == 6"}],
 "mark": {"type": "text", "align": "left", "baseline": "middle", "fontSize": 16, "dx": 3, "dy": -11, "color": "#E8231E", "lineBreak": "\n", "lineHeight": 22},
 "encoding": {"x": {"datum": "Periodo", "type": "nominal", "bandPosition": 0, "scale": {"type": "band", "range": [18, 142]}, "axis": null},
              "y": {"field": "periodo", "type": "nominal", "scale": {"type": "band", "range": [618, 663]}, "axis": null},
              "text": {"field": "periodo"}}},
{"data": {"name": "doc_tab"}, "transform": [{"filter": "datum.k < 6"}],
 "mark": {"type": "text", "align": "center", "baseline": "middle", "fontSize": 16, "color": "#1A1A1A"},
 "encoding": {"x": {"field": "col", "type": "nominal", "scale": {"type": "band", "range": [142, 390]}, "axis": null},
              "y": {"field": "periodo", "type": "nominal", "scale": {"type": "band", "range": [496, 618]}, "axis": null},
              "text": {"field": "v", "format": ".1%"}}},
{"data": {"name": "doc_tab"}, "transform": [{"filter": "datum.k == 6"}],
 "mark": {"type": "text", "align": "center", "baseline": "middle", "fontSize": 16, "color": "#E8231E", "dy": 11},
 "encoding": {"x": {"field": "col", "type": "nominal", "scale": {"type": "band", "range": [142, 390]}, "axis": null},
              "y": {"field": "periodo", "type": "nominal", "scale": {"type": "band", "range": [618, 663]}, "axis": null},
              "text": {"field": "v", "format": ".1%"}}},
{"data": {"name": "dop_idx"},
 "mark": {"type": "line", "strokeWidth": 4, "strokeJoin": "round", "strokeCap": "round"},
 "encoding": {
  "x": {"field": "m", "type": "ordinal", "scale": {"range": [540, 912]},
        "axis": {"orient": "bottom", "offset": -106, "title": null, "labelExpr": "datum.value % 12 == 0 ? (datum.value == 96 ? 'gen-14' : 'jan-' + (datum.value < 48 ? '0' : '') + (6 + datum.value / 12)) : ''", "labelAngle": -90, "labelOverlap": false, "labelPadding": 2, "labelFontSize": 13, "labelColor": "#262626", "tickSize": 3, "tickColor": "#A6A6A6", "domainColor": "#A6A6A6", "grid": false}},
  "y": {"field": "v", "type": "quantitative", "scale": {"domain": [50, 150], "range": [563, 402], "nice": false, "zero": false},
        "axis": {"orient": "left", "offset": -540, "values": [50, 60, 70, 80, 90, 100, 110, 120, 130, 140, 150], "grid": true, "gridColor": "#A0A0A0", "gridDash": [2, 2], "domain": false, "ticks": false, "labelPadding": 11, "labelFontSize": 13, "labelColor": "#262626",
                 "title": "Dinamica dell’indice Ismea dei prezzi dei vini Dop", "titleAngle": 0, "titleX": -28, "titleY": 388, "titleAlign": "left", "titleBaseline": "middle", "titleFontSize": 13, "titleFontWeight": 600, "titleColor": "#000000"}},
  "color": {"field": "s", "type": "nominal", "scale": {"domain": ["White", "Red", "Total"], "range": ["#44546A", "#8C8C8C", "#FFC000"]},
            "legend": {"orient": "none", "legendX": 620, "legendY": 613, "direction": "horizontal", "title": null, "symbolType": "stroke", "symbolSize": 841, "symbolStrokeWidth": 4, "labelFontSize": 13, "labelColor": "#262626", "labelOffset": 1, "columnPadding": 12, "padding": 0}}
 }},
{"data": {"values": [{"t": "*primi 11 mesi di campagna agosto 13-giugno 14 su stesso periodo campagna precedente"}]},
 "mark": {"type": "text", "align": "left", "baseline": "middle", "fontSize": 13, "fontStyle": "italic", "color": "#A6A6A6"},
 "encoding": {"x": {"datum": "a", "type": "nominal", "bandPosition": 0, "scale": {"type": "band", "range": [397, 885]}, "axis": null},
              "y": {"datum": "a", "type": "nominal", "scale": {"type": "band", "range": [655, 669]}, "axis": null},
              "text": {"field": "t"}}}
],
"resolve": {"scale": {"x": "independent", "y": "independent", "color": "independent"}}
}
